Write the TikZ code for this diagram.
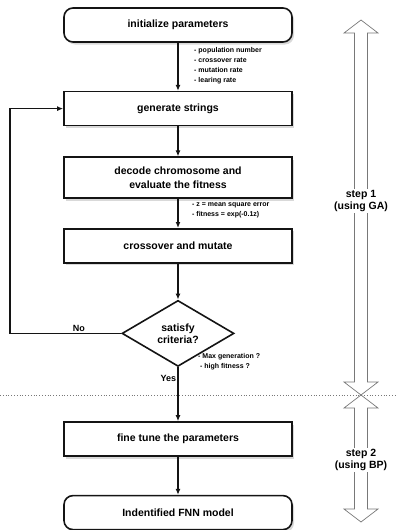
\documentclass[tikz,border=0pt]{standalone}
\usepackage{fontspec}
\setmainfont{Liberation Sans}
\usepackage{tikz}
\usetikzlibrary{shapes.geometric, arrows.meta, positioning, calc, shadows}
\definecolor{inkline}{RGB}{20, 20, 20}
\definecolor{scangray}{RGB}{120, 120, 120}
\tikzset{
  font=\bfseries\fontsize{10.5}{12}\selectfont,
  procblock/.style={
    rectangle, draw=inkline, line width=1.6pt, fill=white,
    minimum height=34pt, minimum width=228pt, align=center,
    drop shadow={shadow xshift=2pt, shadow yshift=-2.5pt, opacity=0.3}
  },
  termblock/.style={procblock, rounded corners=9pt},
  decisionblock/.style={
    diamond, draw=inkline, line width=1.6pt, fill=white,
    aspect=1.7, minimum width=112pt, minimum height=66pt,
    inner sep=0pt, align=center
  },
  notetext/.style={
    font=\bfseries\fontsize{7}{10}\selectfont, align=left, inner sep=0pt
  },
  flowlabel/.style={font=\bfseries\fontsize{9}{11}\selectfont, inner sep=1pt},
  flowline/.style={
    draw=inkline, -{Latex[length=6pt, width=5pt]}, line width=1.5pt
  },
  phasearrow/.style={draw=scangray, line width=0.7pt},
  phaselabel/.style={fill=white, align=center, inner sep=1.5pt},
  phasesplit/.style={draw=scangray, dotted, line width=0.8pt}
}
\begin{document}
\begin{tikzpicture}[x=1pt, y=-1pt]
  \useasboundingbox (0,0) rectangle (396,530);

  % Start
  \node[termblock] (init) at (178,25) {initialize parameters};
  \node[notetext, anchor=north west] (initnote) at ([xshift=16pt, yshift=-4pt]init.south) {
    - population number\\- crossover rate\\- mutation rate\\- learing rate
  };

  % GA loop
  \node[procblock, below=48pt of init] (gen) {generate strings};
  \node[procblock, below=30pt of gen, minimum height=41pt, font=\bfseries\fontsize{10.5}{14}\selectfont] (decode) {
    decode chromosome and\\evaluate the fitness
  };
  \node[notetext, anchor=north west] (decnote) at ([xshift=14pt, yshift=-4pt]decode.south) {
    - z = mean square error\\- fitness = exp(-0.1z)
  };
  \node[procblock, below=29pt of decode] (cross) {crossover and mutate};

  % Stop test
  \node[decisionblock, below=36pt of cross] (crit) {satisfy\\criteria?};
  \node[notetext, anchor=north west] (critnote) at ([xshift=20pt, yshift=14pt]crit.south) {
    - Max generation ?\\\ - high fitness ?
  };

  % BP stage
  \node[procblock, below=54pt of crit] (fine) {fine tune the parameters};
  \node[termblock, below=38pt of fine] (ident) {Indentified FNN model};

  % Stage split
  \coordinate (splitL) at (0,395);
  \coordinate (splitR) at (396,395);
  \coordinate (loopx) at (10,0);
  \draw[phasesplit] (splitL) -- (splitR);

  % Connections
  \draw[flowline] (init) -- (gen);
  \draw[flowline] (gen) -- (decode);
  \draw[flowline] (decode) -- (cross);
  \draw[flowline] (cross) -- (crit);
  \draw[flowline] (crit) -- node[flowlabel, left, pos=0.2] {Yes} (fine);
  \draw[flowline] (fine) -- (ident);
  \draw[flowline] (crit.west) -- node[flowlabel, above, pos=0.38] {No} (crit.west -| loopx) |- (gen.west);

  % Step arrows
  \draw[phasearrow] (361,20) -- (378,33) -- (367.5,33) -- (367.5,382) -- (378,382) -- (361,395)
    -- (344,382) -- (354.5,382) -- (354.5,33) -- (344,33) -- cycle;
  \draw[phasearrow] (361,395) -- (378,408) -- (367.5,408) -- (367.5,509) -- (378,509) -- (361,522)
    -- (344,509) -- (354.5,509) -- (354.5,408) -- (344,408) -- cycle;
  \node[phaselabel] (step1) at (361,201) {step 1\\(using GA)};
  \node[phaselabel] (step2) at (361,460) {step 2\\(using BP)};

\end{tikzpicture}
\end{document}
